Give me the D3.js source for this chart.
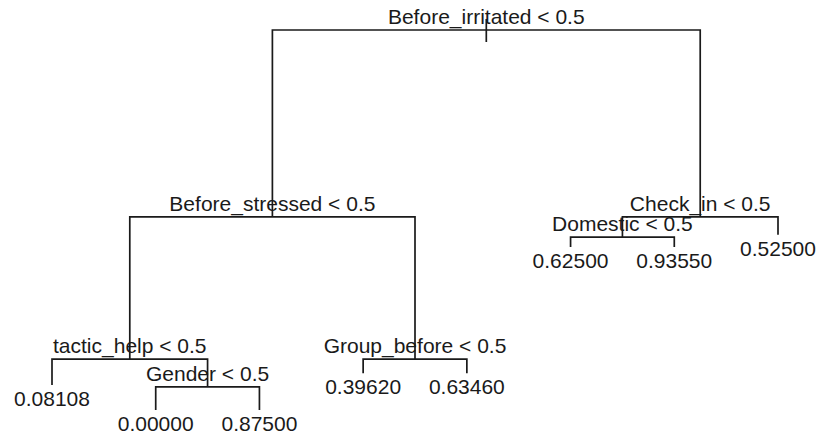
<!DOCTYPE html>
<html lang="en">
<head>
  <meta charset="UTF-8">
  <title>Regression tree</title>
  <style>
    body, html {
      margin: 0;
      padding: 0;
      background: #fff;
    }
    text {
      font-family: "Liberation Sans", Arial, Helvetica, sans-serif;
      font-size: 21px;
      fill: #1a1a1a;
    }
  </style>
</head>
<body>
  <svg id="svg" width="821" height="441"></svg>
  <script src="https://d3js.org/d3.v7.min.js"></script>
  <script>
    // rpart node numbering: children of n are 2n and 2n+1
    const nodeIds = [1, 2, 4, 8, 9, 18, 19, 5, 10, 11, 3, 6, 12, 13, 7]
    // split text for internal nodes, fitted value for leaves
    const nodeLabels = [
      "Before_irritated < 0.5", "Before_stressed < 0.5", "tactic_help < 0.5",
      "0.08108", "Gender < 0.5", "0.00000", "0.87500",
      "Group_before < 0.5", "0.39620", "0.63460",
      "Check_in < 0.5", "Domestic < 0.5", "0.62500", "0.93550", "0.52500"
    ]
    // node height (scaled deviance), root = 1
    const nodeHeights = [1.0, 0.508, 0.134, 0.066, 0.061, 0.0, 0.0, 0.134, 0.097, 0.097, 0.508, 0.455, 0.429, 0.429, 0.461]

    const width = 821
    const height = 441

    const nodes = nodeIds.map((id, i) => ({
      id: id,
      parent: id === 1 ? null : Math.floor(id / 2),
      label: nodeLabels[i],
      h: nodeHeights[i]
    }))

    const root = d3.stratify()
      .id(d => d.id)
      .parentId(d => d.parent)(nodes)

    // keep left child (even id) first
    root.sort((a, b) => a.data.id - b.data.id)

    const leaves = root.leaves()
    const x = d3.scaleLinear().domain([1, leaves.length]).range([52, 778])
    const y = d3.scaleLinear().domain([0, 1]).range([410, 30])

    leaves.forEach((d, i) => { d.x = x(i + 1) })
    root.eachAfter(d => {
      if (d.children) d.x = d3.mean(d.children, c => c.x)
    })

    const svg = d3.select("#svg")
    const g = svg.append('g')

    // branches: vertical from parent bar down to child, horizontal bar at parent
    root.descendants().filter(d => d.children).forEach(d => {
      const py = y(d.data.h)
      const [l, r] = d.children
      g.append('path')
        .attr('d', `M${l.x},${y(l.data.h)}V${py}H${r.x}V${y(r.data.h)}`)
        .attr('fill', 'none')
        .attr('stroke', '#1a1a1a')
        .attr('stroke-width', 1.7)
    })

    // small stub through the root
    g.append('line')
      .attr('x1', root.x).attr('x2', root.x)
      .attr('y1', y(root.data.h) - 11).attr('y2', y(root.data.h) + 12)
      .attr('stroke', '#1a1a1a')
      .attr('stroke-width', 1.7)

    // labels
    g.selectAll('text')
      .data(root.descendants())
      .enter()
      .append('text')
      .attr('x', d => d.x)
      .attr('y', d => d.children ? y(d.data.h) - 6 : y(d.data.h) + 21)
      .attr('text-anchor', 'middle')
      .text(d => d.data.label)
  </script>
</body>
</html>
